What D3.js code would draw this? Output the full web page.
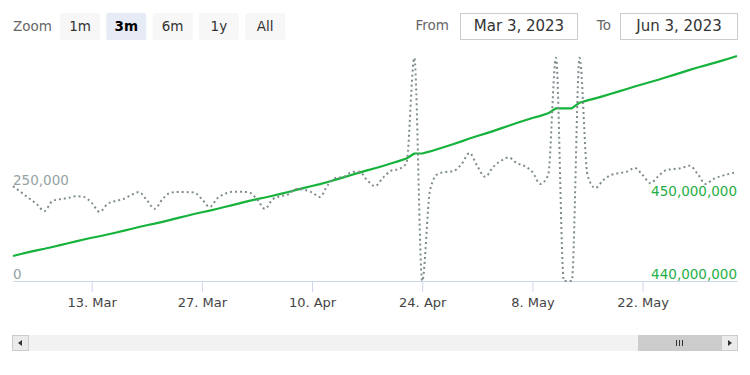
<!DOCTYPE html>
<html>
<head>
<meta charset="utf-8">
<script src="https://cdn.jsdelivr.net/npm/d3@7"></script>
<style>
  body { margin: 0; background: #fff; }
  text { font-family: "DejaVu Sans", sans-serif; }
</style>
</head>
<body>
<div id="target"></div>
<script>

// daily values (left axis), one per day from startDate
let startDate = "2023-03-03";
let dailyValues = [
  255000, 239000, 223000, 207000, 188000, 215000, 220000, 223000, 228000, 226000,
  210000, 186000, 207000, 215000, 220000, 231000, 239000, 218000, 194000, 220000,
  237000, 239000, 239000, 238000, 220000, 199000, 223000, 235000, 240000, 240000,
  238000, 220000, 194000, 220000, 228000, 233000, 247000, 245000, 238000, 226000,
  258000, 277000, 280000, 292000, 294000, 271000, 255000, 277000, 296000, 301000,
  317000, 600000, 0, 245000, 288000, 293000, 296000, 314000, 344000, 309000,
  280000, 306000, 323000, 332000, 317000, 309000, 293000, 261000, 285000, 600000,
  0, 0, 600000, 285000, 250000, 271000, 285000, 290000, 294000, 304000,
  285000, 263000, 282000, 298000, 301000, 304000, 310000, 288000, 261000, 274000,
  282000, 288000, 293000
];

// running total (right axis), in millions
let totalMillions = [
  443.05, 443.29, 443.52, 443.74, 443.93, 444.15, 444.37, 444.60, 444.83, 445.06,
  445.27, 445.46, 445.67, 445.89, 446.11, 446.34, 446.58, 446.80, 446.99, 447.21,
  447.45, 447.69, 447.93, 448.17, 448.39, 448.59, 448.81, 449.05, 449.29, 449.53,
  449.77, 449.99, 450.18, 450.40, 450.63, 450.86, 451.11, 451.35, 451.59, 451.82,
  452.08, 452.36, 452.64, 452.93, 453.22, 453.49, 453.75, 454.03, 454.32, 454.62,
  454.94, 455.55, 455.55, 455.80, 456.10, 456.40, 456.71, 457.03, 457.37, 457.69,
  457.97, 458.28, 458.61, 458.94, 459.27, 459.58, 459.88, 460.14, 460.45, 461.06,
  461.06, 461.06, 461.74, 462.02, 462.27, 462.54, 462.83, 463.12, 463.41, 463.72,
  464.00, 464.26, 464.54, 464.84, 465.14, 465.44, 465.75, 466.04, 466.30, 466.57,
  466.85, 467.14, 467.43
];

let dateTicks = ["2023-03-13", "2023-03-27", "2023-04-10", "2023-04-24", "2023-05-08", "2023-05-22"];
let leftTicks = [0, 250000];
let rightTicks = [440, 450];
let zoomButtons = ["1m", "3m", "6m", "1y", "All"];
let selectedZoom = "3m";
let fromText = "Mar 3, 2023",
  toText = "Jun 3, 2023";

let width = 750,
  height = 375;
let plot = { left: 13, right: 737, top: 55, bottom: 281 };

let grayColor = "#7f8c8d",
  greenColor = "#15b33b";

let parse = d3.timeParse("%Y-%m-%d");
let first = parse(startDate);
let days = d3.timeDay.range(first, d3.timeDay.offset(first, dailyValues.length));

let x = d3.scaleTime()
  .domain([days[0], days[days.length - 1]])
  .range([plot.left, plot.right]);

let yLeft = d3.scaleLinear()
  .domain([0, 607500])
  .range([plot.bottom, plot.top]);

let yRight = d3.scaleLinear()
  .domain([440, 467.56])
  .range([plot.bottom, plot.top]);

let svg = d3.select("#target").append("svg")
  .attr("width", width)
  .attr("height", height);

svg.append("defs").append("clipPath")
  .attr("id", "clip")
  .append("rect")
  .attr("x", plot.left - 2)
  .attr("y", plot.top - 4)
  .attr("width", plot.right - plot.left + 4)
  .attr("height", plot.bottom - plot.top + 6);

// x axis
let xAxis = svg.append("g")
  .attr("transform", "translate(0," + plot.bottom + ")")
  .call(d3.axisBottom(x)
    .tickValues(dateTicks.map(parse))
    .tickFormat(d3.timeFormat("%-d. %b"))
    .tickSize(11)
    .tickSizeOuter(0)
    .tickPadding(6))
  .attr("font-size", 13)
  .attr("font-family", "DejaVu Sans");
xAxis.select(".domain").attr("stroke", "#ccd6eb");
xAxis.selectAll(".tick line").attr("stroke", "#ccd6eb");
xAxis.selectAll(".tick text").attr("fill", "#444");

// left axis (labels inside the plot)
let leftAxis = svg.append("g")
  .attr("transform", "translate(" + plot.left + ",0)")
  .call(d3.axisRight(yLeft).tickValues(leftTicks).tickSize(0).tickFormat(d3.format(",")))
  .attr("font-size", 13.5)
  .attr("font-family", "DejaVu Sans");
leftAxis.select(".domain").remove();
leftAxis.selectAll("text")
  .attr("x", 0)
  .attr("dy", -3)
  .attr("text-anchor", "start")
  .attr("fill", "#95a3a4");

// right axis
let rightAxis = svg.append("g")
  .attr("transform", "translate(" + plot.right + ",0)")
  .call(d3.axisLeft(yRight).tickValues(rightTicks).tickSize(0)
    .tickFormat((d) => d3.format(",")(d * 1e6)))
  .attr("font-size", 13.5)
  .attr("font-family", "DejaVu Sans");
rightAxis.select(".domain").remove();
rightAxis.selectAll("text")
  .attr("x", 0)
  .attr("dy", -3)
  .attr("text-anchor", "end")
  .attr("fill", "#1fae45");

// series
let lines = svg.append("g").attr("clip-path", "url(#clip)");

let totalLine = d3.line()
  .x((d, i) => x(days[i]))
  .y((d) => yRight(d));

lines.append("path")
  .datum(totalMillions)
  .attr("d", totalLine)
  .attr("fill", "none")
  .attr("stroke", greenColor)
  .attr("stroke-width", 2.2)
  .attr("stroke-linejoin", "round");

let dailyLine = d3.line()
  .x((d, i) => x(days[i]))
  .y((d) => yLeft(d))
  .curve(d3.curveMonotoneX);

lines.append("path")
  .datum(dailyValues)
  .attr("d", dailyLine)
  .attr("fill", "none")
  .attr("stroke", grayColor)
  .attr("stroke-width", 2)
  .attr("stroke-dasharray", "2,3");

// range selector
svg.append("text")
  .attr("x", 13)
  .attr("y", 31)
  .attr("font-size", 13.5)
  .attr("fill", "#666")
  .text("Zoom");

let btn = svg.selectAll(".btn")
  .data(zoomButtons)
  .enter()
  .append("g")
  .attr("class", "btn")
  .attr("transform", (d, i) => "translate(" + (60 + i * 46.3) + ",13)");

btn.append("rect")
  .attr("width", 40)
  .attr("height", 27)
  .attr("rx", 2)
  .attr("fill", (d) => d == selectedZoom ? "#e6ebf5" : "#f7f7f7");

btn.append("text")
  .attr("x", 20)
  .attr("y", 17.5)
  .attr("text-anchor", "middle")
  .attr("font-size", 13.5)
  .attr("font-weight", (d) => d == selectedZoom ? "bold" : "normal")
  .attr("fill", (d) => d == selectedZoom ? "#000" : "#333")
  .text((d) => d);

let inputs = [
  { label: "From", value: fromText, labelEnd: 449, box: 460.5 },
  { label: "To", value: toText, labelEnd: 611, box: 620.5 }
];

inputs.forEach((inp) => {
  svg.append("text")
    .attr("x", inp.labelEnd)
    .attr("y", 30)
    .attr("text-anchor", "end")
    .attr("font-size", 13.5)
    .attr("fill", "#666")
    .text(inp.label);
  svg.append("rect")
    .attr("x", inp.box)
    .attr("y", 13.5)
    .attr("width", 117)
    .attr("height", 26)
    .attr("fill", "#fff")
    .attr("stroke", "#cccccc");
  svg.append("text")
    .attr("x", inp.box + 58.5)
    .attr("y", 30.5)
    .attr("text-anchor", "middle")
    .attr("font-size", 15)
    .attr("fill", "#333")
    .text(inp.value);
});

// scrollbar
let sb = svg.append("g").attr("transform", "translate(0,335)");
sb.append("rect")
  .attr("x", 12).attr("y", 0)
  .attr("width", 726).attr("height", 16)
  .attr("fill", "#f2f2f2");
sb.append("rect")
  .attr("x", 638).attr("y", 0)
  .attr("width", 84).attr("height", 16)
  .attr("fill", "#cccccc");
[676.5, 679.5, 682.5].forEach((gx) => {
  sb.append("line")
    .attr("x1", gx).attr("x2", gx)
    .attr("y1", 5).attr("y2", 11)
    .attr("stroke", "#333");
});
[12.5, 721.5].forEach((bx) => {
  sb.append("rect")
    .attr("x", bx).attr("y", 0.5)
    .attr("width", 16).attr("height", 15)
    .attr("fill", "#ebebeb")
    .attr("stroke", "#cccccc");
});
sb.append("path").attr("d", "M22,5 L18,8 L22,11 Z").attr("fill", "#333");
sb.append("path").attr("d", "M728,5 L732,8 L728,11 Z").attr("fill", "#333");

</script>
</body>
</html>
